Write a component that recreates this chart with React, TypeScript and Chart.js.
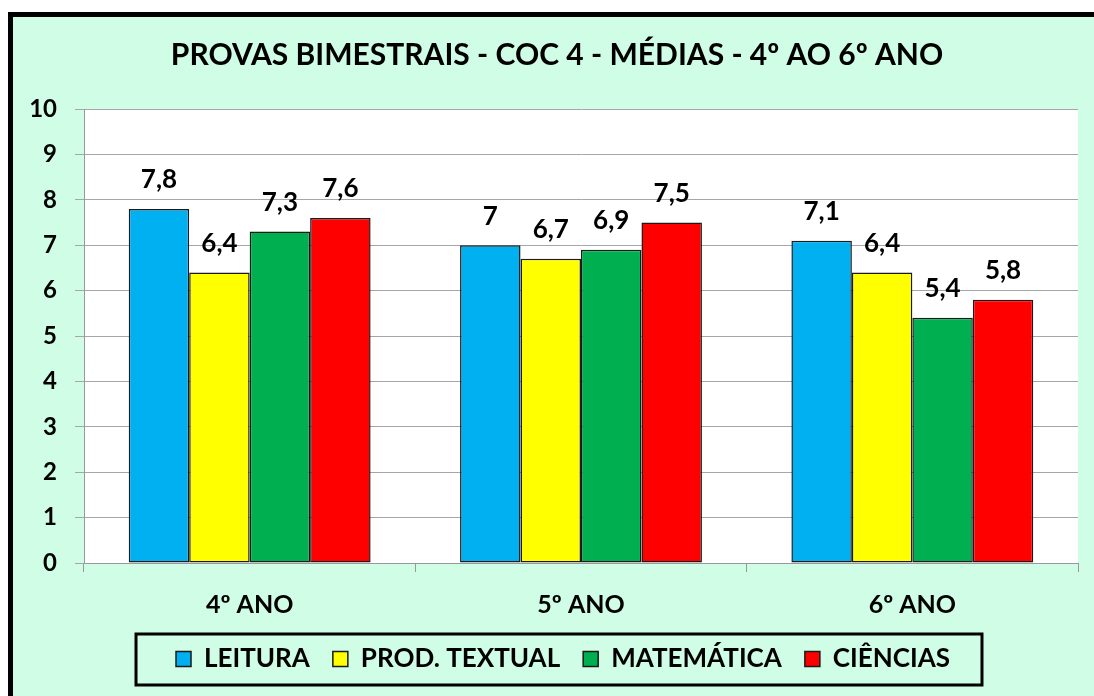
import { useEffect, useRef } from 'react';
import { Chart, registerables } from 'chart.js';

Chart.register(...registerables);

const categories = ['4º ANO', '5º ANO', '6º ANO'];
const seriesNames = ['LEITURA', 'PROD. TEXTUAL', 'MATEMÁTICA', 'CIÊNCIAS'];
const leitura = [7.8, 7, 7.1];
const prodTextual = [6.4, 6.7, 6.4];
const matematica = [7.3, 6.9, 5.4];
const ciencias = [7.6, 7.5, 5.8];
const seriesColors = ['#00B0F0', '#FFFF00', '#00B050', '#FF0000'];
const yMin = 0;
const yMax = 10;
const yStep = 1;
const titleText = 'PROVAS BIMESTRAIS - COC 4 - MÉDIAS - 4º AO 6º ANO';

const FONT = 'Lato';

const plotBgPlugin = {
  id: 'plotBg',
  beforeDraw(chart: any) {
    const { ctx, chartArea } = chart;
    ctx.save();
    ctx.fillStyle = '#FFFFFF';
    ctx.fillRect(chartArea.left, chartArea.top, chartArea.right - chartArea.left, chartArea.bottom - chartArea.top);
    ctx.restore();
  },
};

const shiftPlugin = {
  id: 'shiftBoxes',
  afterLayout(chart: any) {
    const t = chart.titleBlock;
    if (t) {
      t.left += 6;
      t.right += 6;
    }
    const l = chart.legend;
    if (l) {
      l.left += 12;
      l.right += 12;
    }
  },
};

const valueLabelPlugin = {
  id: 'valueLabels',
  afterDatasetsDraw(chart: any) {
    const { ctx } = chart;
    ctx.save();
    ctx.font = `bold 26px ${FONT}`;
    ctx.fillStyle = '#000000';
    ctx.textAlign = 'center';
    ctx.textBaseline = 'middle';
    chart.data.datasets.forEach((ds: any, di: number) => {
      const meta = chart.getDatasetMeta(di);
      meta.data.forEach((el: any, i: number) => {
        const v = ds.data[i];
        const txt = String(v).replace('.', ',');
        ctx.fillText(txt, el.x, el.y - 29);
      });
    });
    ctx.restore();
  },
};

const legendBoxPlugin = {
  id: 'legendBox',
  afterDraw(chart: any) {
    const lg = chart.legend;
    if (!lg || !lg.legendHitBoxes || !lg.legendHitBoxes.length) return;
    const hb = lg.legendHitBoxes;
    const left = Math.min(...hb.map((h: any) => h.left));
    const right = Math.max(...hb.map((h: any) => h.left + h.width));
    const top = Math.min(...hb.map((h: any) => h.top));
    const bottom = Math.max(...hb.map((h: any) => h.top + h.height));
    const { ctx } = chart;
    ctx.save();
    ctx.strokeStyle = '#000000';
    ctx.lineWidth = 3;
    ctx.strokeRect(left - 40, top - 12, right - left + 72, bottom - top + 25);
    ctx.restore();
  },
};

export default function App() {
  const ref = useRef<HTMLCanvasElement | null>(null);

  useEffect(() => {
    document.body.style.margin = '0';
    if (!ref.current) return;
    const values = [leitura, prodTextual, matematica, ciencias];
    const chart = new Chart(ref.current, {
      type: 'bar',
      data: {
        labels: categories,
        datasets: seriesNames.map((name, i) => ({
          label: name,
          data: values[i],
          backgroundColor: seriesColors[i],
          borderColor: '#1A1A1A',
          borderWidth: 1.5,
          borderSkipped: false,
          barPercentage: 1,
          categoryPercentage: 0.73,
        })),
      },
      options: {
        responsive: false,
        animation: false,
        layout: { padding: { left: 24, right: 16, top: 0, bottom: 14 } },
        plugins: {
          tooltip: { enabled: false },
          title: {
            display: true,
            text: titleText,
            color: '#000000',
            font: { family: FONT, size: 30, weight: 'bold' },
            padding: { top: 37, bottom: 36 },
          },
          legend: {
            display: true,
            position: 'bottom',
            labels: {
              color: '#000000',
              font: { family: FONT, size: 26, weight: 'bold' },
              boxWidth: 15,
              boxHeight: 15,
              padding: 23,
            },
          },
        },
        scales: {
          x: {
            grid: {
              display: true,
              drawOnChartArea: false,
              offset: true,
              tickLength: 9,
              color: '#999999',
            },
            border: { display: true, color: '#999999', width: 1 },
            ticks: {
              color: '#000000',
              font: { family: FONT, size: 25, weight: 'bold' },
              padding: 18,
            },
            afterFit(scale: any) {
              scale.height = 60;
            },
          },
          y: {
            min: yMin,
            max: yMax,
            grid: { color: '#A6A6A6', tickLength: 9, lineWidth: 1 },
            border: { display: true, color: '#999999', width: 1 },
            ticks: {
              stepSize: yStep,
              color: '#000000',
              font: { family: FONT, size: 24, weight: 'bold' },
              padding: 18,
            },
            afterFit(scale: any) {
              scale.width = 60;
            },
          },
        },
      },
      plugins: [plotBgPlugin, shiftPlugin, valueLabelPlugin, legendBoxPlugin],
    });
    return () => chart.destroy();
  }, []);

  return (
    <div style={{ position: 'fixed', left: 0, top: 0, width: 1094, height: 696, background: '#FFFFFF', overflow: 'hidden' }}>
      <div
        style={{
          position: 'absolute',
          left: 8,
          top: 12,
          width: 1100,
          height: 700,
          background: '#D0FDE6',
          borderTop: '5px solid #000000',
          borderLeft: '5px solid #000000',
        }}
      />
      <canvas ref={ref} width={1094} height={696} style={{ position: 'absolute', left: 0, top: 0 }} />
    </div>
  );
}
